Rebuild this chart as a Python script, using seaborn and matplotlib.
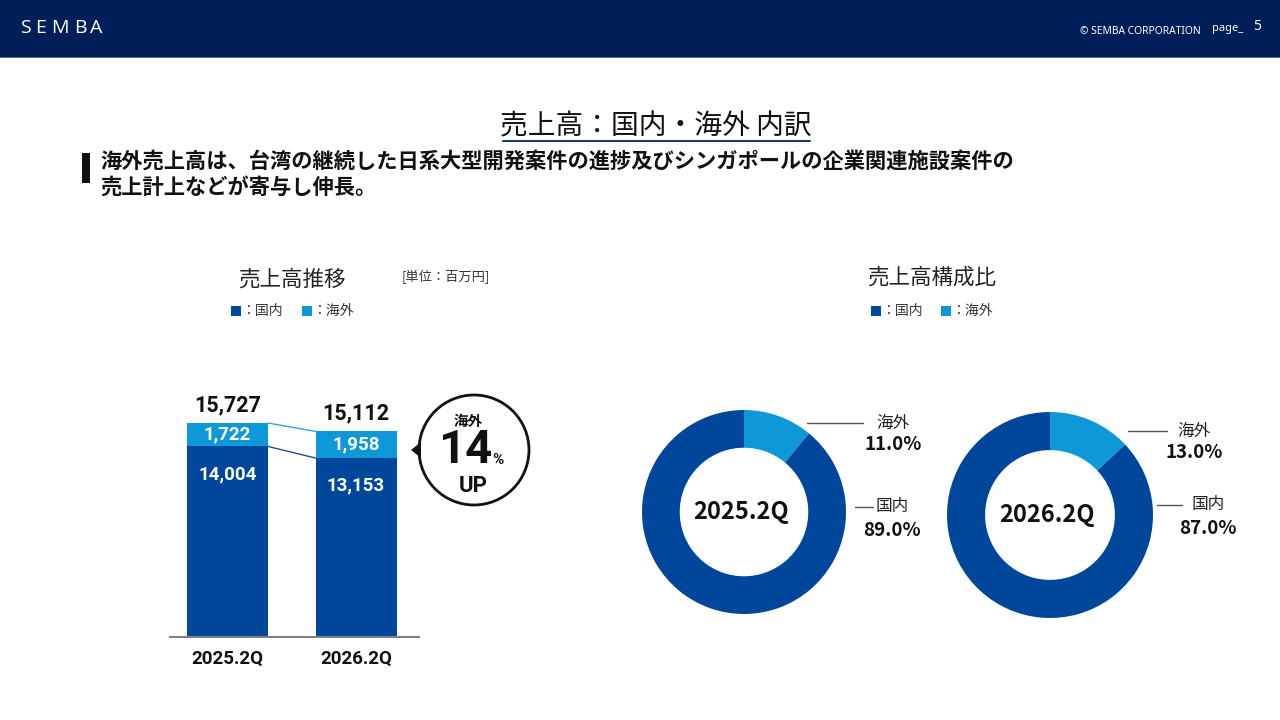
import matplotlib
matplotlib.use("Agg")
import matplotlib.pyplot as plt
import matplotlib.patches as mpatches
import seaborn as sns
import pandas as pd

# ---------------- data ----------------
periods = ["2025.2Q", "2026.2Q"]
domestic = [14004, 13153]
overseas = [1722, 1958]
totals = [15727, 15112]
share_overseas = [11.0, 13.0]
share_domestic = [89.0, 87.0]
growth_pct = 14

C_DOM = "#00469A"
C_OVS = "#0E98D8"
C_NAVY = "#001F58"

sns.set_theme(style="white")
JP = ["Noto Sans CJK JP", "DejaVu Sans"]
NUM = ["Roboto", "Noto Sans CJK JP", "DejaVu Sans"]
plt.rcParams["font.family"] = JP

W, H = 1280, 720
fig = plt.figure(figsize=(12.8, 7.2), dpi=100, facecolor="white")


def fx(x):
    return x / W


def fy(y):
    return 1 - y / H


def ftext(x, y, s, **kw):
    kw.setdefault("ha", "left")
    kw.setdefault("va", "center")
    return fig.text(fx(x), fy(y), s, **kw)


# ---------------- header ----------------
fig.add_artist(mpatches.Rectangle((0, fy(57)), 1, 57 / H, transform=fig.transFigure,
                                  facecolor=C_NAVY, edgecolor="none", zorder=0))
fig.add_artist(mpatches.Rectangle((0, fy(58)), 1, 1.5 / H, transform=fig.transFigure,
                                  facecolor="#5a6a8a", edgecolor="none", zorder=0))
for ch, x in zip("SEMBA", [25, 41, 60, 80, 96]):
    ftext(x, 28, ch, color="white", fontsize=14, ha="center", family=["Open Sans", "DejaVu Sans"])
ftext(1080, 31, "© SEMBA CORPORATION", color="white", fontsize=7.4,
      family=["Noto Sans", "DejaVu Sans"])
ftext(1212, 28, "page_", color="white", fontsize=8, family=["Noto Sans", "DejaVu Sans"])
ftext(1257, 27, "5", color="white", fontsize=10, fontweight="bold", ha="center",
      family=["Noto Sans", "DejaVu Sans"])

# ---------------- title ----------------
ftext(656, 126, "売上高：国内・海外 内訳", fontsize=20, ha="center", color="#111111")
fig.add_artist(plt.Line2D([fx(503), fx(810)], [fy(141), fy(141)], transform=fig.transFigure,
                          color="#1d3a6a", lw=1.5))
fig.add_artist(mpatches.Rectangle((fx(82), fy(183)), 8 / W, 30 / H, transform=fig.transFigure,
                                  facecolor="#111111", edgecolor="none"))
ftext(100, 161, "海外売上高は、台湾の継続した日系大型開発案件の進捗及びシンガポールの企業関連施設案件の",
      fontsize=15.3, fontweight="bold", color="#111111")
ftext(100, 187, "売上計上などが寄与し伸長。", fontsize=15.3, fontweight="bold", color="#111111")

# ---------------- section titles & legends ----------------
ftext(292, 280, "売上高推移", fontsize=15.5, ha="center", color="#222222")
ftext(402, 277, "[単位：百万円]", fontsize=9.5, color="#333333")
ftext(932, 278, "売上高構成比", fontsize=15.5, ha="center", color="#222222")


def legend(x0, x1):
    for x, c, lab in [(x0, C_DOM, "：国内"), (x1, C_OVS, "：海外")]:
        fig.add_artist(mpatches.Rectangle((fx(x), fy(316)), 10 / W, 10 / H,
                                          transform=fig.transFigure, facecolor=c,
                                          edgecolor="none"))
        ftext(x + 10, 311, lab, fontsize=10, color="#333333")


legend(231, 302)
legend(871, 941)

# ---------------- stacked bars ----------------
stacked = [d + o for d, o in zip(domestic, overseas)]
df = pd.DataFrame({"period": periods, "domestic": domestic, "stacked": stacked})

base_y, top_y = 637, 400
ymax = (base_y - top_y) / (base_y - 423) * totals[0]
bw = 81 / 128.5
ax = fig.add_axes([fx(170), fy(base_y), (419 - 170) / W, (base_y - top_y) / H])
sns.barplot(data=df, x="period", y="stacked", color=C_OVS, saturation=1, width=bw, ax=ax,
            edgecolor="none")
sns.barplot(data=df, x="period", y="domestic", color=C_DOM, saturation=1, width=bw, ax=ax,
            edgecolor="none")
ax.set_xlim(-57.5 / 128.5, 1 + 63 / 128.5)
ax.set_ylim(0, ymax)
ax.set_xlabel("")
ax.set_ylabel("")
ax.set_yticks([])
for s in ["top", "right", "left"]:
    ax.spines[s].set_visible(False)
ax.spines["bottom"].set_color("#808080")
ax.spines["bottom"].set_linewidth(1.5)
ax.set_facecolor("none")
ax.tick_params(axis="x", length=0, pad=9)
for lab in ax.get_xticklabels():
    lab.set_fontsize(13.5)
    lab.set_fontweight("bold")
    lab.set_family(NUM)
    lab.set_color("#111111")

# connector lines between bars
ax.plot([bw / 2, 1 - bw / 2], [stacked[0], stacked[1]], color="#3aa0d8", lw=1)
ax.plot([bw / 2, 1 - bw / 2], [domestic[0], domestic[1]], color="#1f4f94", lw=1)

for i in range(2):
    ax.annotate(f"{totals[i]:,}", (i, stacked[i]), xytext=(0, 13), textcoords="offset points",
                ha="center", va="center", fontsize=15.5, fontweight="bold", family=NUM,
                color="#111111")
    ax.annotate(f"{overseas[i]:,}", (i, (domestic[i] + stacked[i]) / 2), ha="center",
                va="center", fontsize=13.5, fontweight="bold", family=NUM, color="white")
    ax.annotate(f"{domestic[i]:,}", (i, domestic[i]), xytext=(0, -20),
                textcoords="offset points", ha="center", va="center", fontsize=13.5,
                fontweight="bold", family=NUM, color="white")

# callout bubble
fig.add_artist(mpatches.Ellipse((fx(474), fy(450)), 110 / W, 110 / H, transform=fig.transFigure,
                                facecolor="white", edgecolor="#111111", lw=2))
fig.add_artist(mpatches.Polygon([(fx(411), fy(450)), (fx(421), fy(442)), (fx(421), fy(458))],
                                closed=True, transform=fig.transFigure, facecolor="#111111",
                                edgecolor="none"))
ftext(468, 421, "海外", fontsize=10.5, fontweight="bold", ha="center", color="#111111")
ftext(492, 450, f"{growth_pct}", fontsize=34, fontweight="bold", ha="right", family=NUM,
      color="#111111")
ftext(492, 460, "%", fontsize=11, fontweight="bold", ha="left", family=NUM, color="#111111")
ftext(473, 486, "UP", fontsize=16, fontweight="bold", ha="center", family=NUM, color="#111111")

# ---------------- donuts ----------------
donut_specs = [
    (744, 512, 102, (807, 863, 423), (855, 873, 507), 893, 892),
    (1050, 515, 103, (1128, 1167, 431), (1157, 1182, 505), 1194, 1208),
]
for k, (cx, cy, r, l1, l2, xo, xd) in enumerate(donut_specs):
    dax = fig.add_axes([fx(cx - r), fy(cy + r), 2 * r / W, 2 * r / H])
    dax.pie([share_overseas[k], share_domestic[k]], colors=[C_OVS, C_DOM], startangle=90,
            counterclock=False, radius=1, wedgeprops=dict(width=0.37, edgecolor="none"))
    dax.set_xlim(-1, 1)
    dax.set_ylim(-1, 1)
    dax.set_aspect("equal")
    dax.axis("off")
    dax.text(-0.03, 0, periods[k], ha="center", va="center", fontsize=17, fontweight="bold",
             color="#111111")
    fig.add_artist(plt.Line2D([fx(l1[0]), fx(l1[1])], [fy(l1[2]), fy(l1[2])],
                              transform=fig.transFigure, color="#555555", lw=1))
    fig.add_artist(plt.Line2D([fx(l2[0]), fx(l2[1])], [fy(l2[2]), fy(l2[2])],
                              transform=fig.transFigure, color="#555555", lw=1))
    ftext(xo, l1[2], "海外", fontsize=12, ha="center", color="#222222")
    ftext(xo, l1[2] + 21, f"{share_overseas[k]:.1f}%", fontsize=13.5, fontweight="bold",
          ha="center", color="#111111")
    ftext(xd, l2[2] - 1, "国内", fontsize=12, ha="center", color="#222222")
    ftext(xd, l2[2] + 24, f"{share_domestic[k]:.1f}%", fontsize=13.5, fontweight="bold",
          ha="center", color="#111111")

fig.savefig("out.png", dpi=100, facecolor="white")
